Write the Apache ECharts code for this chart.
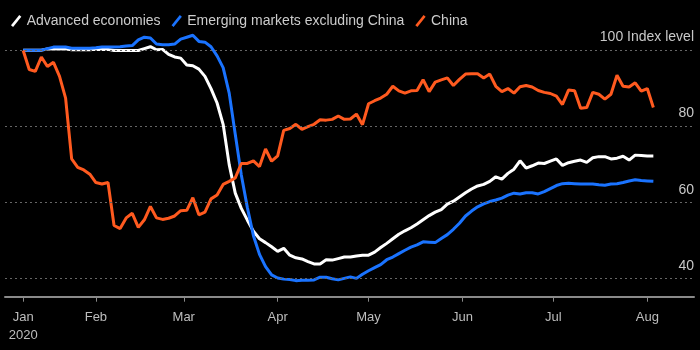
<!DOCTYPE html>
<html>
<head>
<meta charset="utf-8">
<script src="https://cdn.jsdelivr.net/npm/echarts@6/dist/echarts.min.js"></script>
<style>
html,body{margin:0;padding:0;background:#000;}
#chart{width:700px;height:350px;}
</style>
</head>
<body>
<div id="chart"></div>
<script>
const seriesNames = ['Advanced economies', 'Emerging markets excluding China', 'China'];

const dates = [
  '2020-01-08','2020-01-10','2020-01-12','2020-01-14','2020-01-16','2020-01-18','2020-01-20','2020-01-22','2020-01-24','2020-01-26','2020-01-28','2020-01-30',
  '2020-02-01','2020-02-03','2020-02-05','2020-02-07','2020-02-09','2020-02-11','2020-02-13','2020-02-15','2020-02-17','2020-02-19','2020-02-21','2020-02-23','2020-02-25','2020-02-27','2020-02-29',
  '2020-03-02','2020-03-04','2020-03-06','2020-03-08','2020-03-10','2020-03-12','2020-03-14','2020-03-16','2020-03-18','2020-03-20','2020-03-22','2020-03-24','2020-03-26','2020-03-28','2020-03-30',
  '2020-04-01','2020-04-03','2020-04-05','2020-04-07','2020-04-09','2020-04-11','2020-04-13','2020-04-15','2020-04-17','2020-04-19','2020-04-21','2020-04-23','2020-04-25','2020-04-27','2020-04-29',
  '2020-05-01','2020-05-03','2020-05-05','2020-05-07','2020-05-09','2020-05-11','2020-05-13','2020-05-15','2020-05-17','2020-05-19','2020-05-21','2020-05-23','2020-05-25','2020-05-27','2020-05-29','2020-05-31',
  '2020-06-02','2020-06-04','2020-06-06','2020-06-08','2020-06-10','2020-06-12','2020-06-14','2020-06-16','2020-06-18','2020-06-20','2020-06-22','2020-06-24','2020-06-26','2020-06-28','2020-06-30',
  '2020-07-02','2020-07-04','2020-07-06','2020-07-08','2020-07-10','2020-07-12','2020-07-14','2020-07-16','2020-07-18','2020-07-20','2020-07-22','2020-07-24','2020-07-26','2020-07-28','2020-07-30',
  '2020-08-01','2020-08-03'
];

const advanced = [
  100.1, 100.1, 100.1, 100.1, 100.4, 100.4, 100.4, 100.4, 100.2, 100.2,
  100.2, 100.2, 100.3, 100.3, 100.3, 100.0, 100.0, 100.0, 100.0, 100.0,
  100.5, 101.0, 100.2, 100.3, 99.0, 98.3, 98.0, 96.2, 96.0, 95.1,
  93.2, 90.0, 86.2, 80.6, 70.0, 62.5, 58.5, 55.4, 52.5, 50.5,
  49.5, 48.4, 47.2, 48.0, 46.2, 45.5, 45.2, 44.5, 43.9, 43.9,
  45.0, 44.9, 45.3, 45.7, 45.7, 46.0, 46.2, 46.2, 47.0, 48.2,
  49.3, 50.5, 51.7, 52.6, 53.4, 54.4, 55.5, 56.6, 57.5, 58.2,
  59.6, 60.4, 61.5, 62.6, 63.6, 64.4, 64.8, 65.6, 66.8, 66.2,
  67.7, 68.8, 71.0, 69.1, 69.7, 70.4, 70.3, 70.9, 71.5, 69.8,
  70.5, 70.9, 71.2, 70.6, 71.8, 72.1, 72.1, 71.5, 71.7, 72.2,
  71.2, 72.5, 72.4, 72.3, 72.3
];

const emerging = [
  100.1, 100.1, 100.1, 100.1, 100.5, 100.9, 100.9, 100.9, 100.6, 100.6,
  100.6, 100.6, 100.7, 100.9, 100.9, 100.9, 101.0, 101.2, 101.3, 102.8,
  103.5, 103.3, 101.7, 101.5, 101.5, 101.7, 103.0, 103.5, 104.0, 102.4,
  102.2, 101.0, 98.6, 95.5, 88.8, 78.0, 67.3, 58.7, 51.3, 46.4,
  43.2, 41.0, 40.2, 39.9, 39.8, 39.5, 39.6, 39.6, 39.7, 40.4,
  40.4, 40.0, 39.7, 40.1, 40.5, 40.1, 41.2, 42.1, 42.9, 43.7,
  45.0, 45.7, 46.6, 47.5, 48.3, 48.9, 49.7, 49.6, 49.5, 50.6,
  51.6, 53.0, 54.6, 56.5, 57.8, 58.9, 59.7, 60.3, 60.7, 61.2,
  62.0, 62.5, 62.3, 62.6, 62.6, 62.3, 62.9, 63.7, 64.5, 65.0,
  65.1, 65.0, 64.9, 64.9, 64.9, 64.7, 64.6, 64.9, 65.0, 65.3,
  65.7, 66.0, 65.8, 65.7, 65.6
];

const china = [
  100.0, 95.0, 94.5, 98.3, 95.8, 96.9, 93.2, 87.5, 71.5, 69.3,
  68.6, 67.5, 65.3, 64.9, 65.3, 54.0, 53.2, 56.0, 57.2, 53.5,
  55.5, 59.0, 56.0, 55.6, 55.9, 56.5, 57.9, 58.0, 61.3, 56.8,
  57.5, 61.0, 62.0, 64.8, 65.6, 66.5, 70.3, 70.3, 71.0, 69.5,
  74.1, 70.9, 72.3, 79.0, 79.5, 80.6, 79.3, 80.0, 80.6, 81.8,
  81.7, 81.9, 82.8, 81.9, 82.0, 83.3, 80.5, 86.0, 86.8, 87.5,
  88.5, 90.6, 89.4, 88.8, 89.4, 89.5, 92.3, 89.2, 91.7, 92.3,
  92.8, 90.8, 92.4, 93.8, 93.9, 93.9, 92.8, 93.8, 90.6, 89.2,
  90.0, 88.8, 90.5, 90.8, 90.4, 89.5, 89.0, 88.7, 88.0, 85.8,
  89.6, 89.4, 84.8, 85.0, 89.0, 88.5, 87.2, 88.5, 93.5, 90.6,
  90.4, 91.5, 89.3, 90.0, 85.0
];

const xTickDates = ['2020-01-08','2020-02-01','2020-03-01','2020-04-01','2020-05-01','2020-06-01','2020-07-01','2020-08-01'];
const xTickLabels = ['Jan\n2020','Feb','Mar','Apr','May','Jun','Jul','Aug'];
const yTicks = [40, 60, 80, 100];
const yUnit = 'Index level';

const ts = s => { const p = s.split('-').map(Number); return new Date(p[0], p[1]-1, p[2]).getTime(); };
const xTickTs = xTickDates.map(ts);
const pairs = arr => arr.map((v, i) => [ts(dates[i]), v]);

const colors = ['#ffffff', '#1a73ff', '#ff5a1f'];
const font = 'Liberation Sans';
const icon = 'path://M0,10 L8,0 L10,1.6 L2,11.6 Z';

const chart = echarts.init(document.getElementById('chart'), null, {renderer: 'canvas'});
chart.setOption({
  backgroundColor: '#000000',
  animation: false,
  textStyle: {fontFamily: font},
  legend: {
    left: 6, top: 9,
    itemWidth: 11, itemHeight: 12, itemGap: 11,
    icon: icon,
    textStyle: {color: '#cccccc', fontSize: 14, fontFamily: font},
    data: seriesNames.map((n, i) => ({name: n, itemStyle: {color: colors[i]}}))
  },
  grid: {left: 5, right: 6, top: 31.5, bottom: 53.3, containLabel: false},
  xAxis: {
    type: 'value',
    min: ts('2020-01-02'),
    max: ts('2020-08-16') + 10 * 3600 * 1000,
    axisLine: {lineStyle: {color: '#8a8a8a', width: 2}},
    axisTick: {show: true, customValues: xTickTs, length: 5, lineStyle: {color: '#8a8a8a', width: 1}},
    axisLabel: {
      customValues: xTickTs,
      color: '#bdbdbd', fontSize: 13, fontFamily: font, margin: 12, lineHeight: 18,
      formatter: v => { const i = xTickTs.indexOf(v); return i >= 0 ? xTickLabels[i] : ''; }
    },
    splitLine: {show: false}
  },
  yAxis: {
    type: 'value',
    min: 35.28, max: 105,
    show: false,
    splitLine: {show: false}
  },
  series: [
    {
      name: '__grid', type: 'line', data: [], z: 1, silent: true,
      markLine: {
        silent: true, symbol: 'none', animation: false,
        lineStyle: {color: '#666666', type: [2, 3], width: 1},
        label: {
          position: 'insideEndTop', color: '#c8c8c8', fontSize: 14, fontFamily: font, distance: [0, 6],
          formatter: p => p.value === yTicks[yTicks.length - 1] ? p.value + ' ' + yUnit : String(p.value)
        },
        data: yTicks.map(v => ({yAxis: v}))
      }
    },
    ...[advanced, emerging, china].map((arr, i) => ({
      name: seriesNames[i], type: 'line', data: pairs(arr), showSymbol: false, z: 3,
      lineStyle: {color: colors[i], width: 3}, itemStyle: {color: colors[i]}
    }))
  ]
});
</script>
</body>
</html>
